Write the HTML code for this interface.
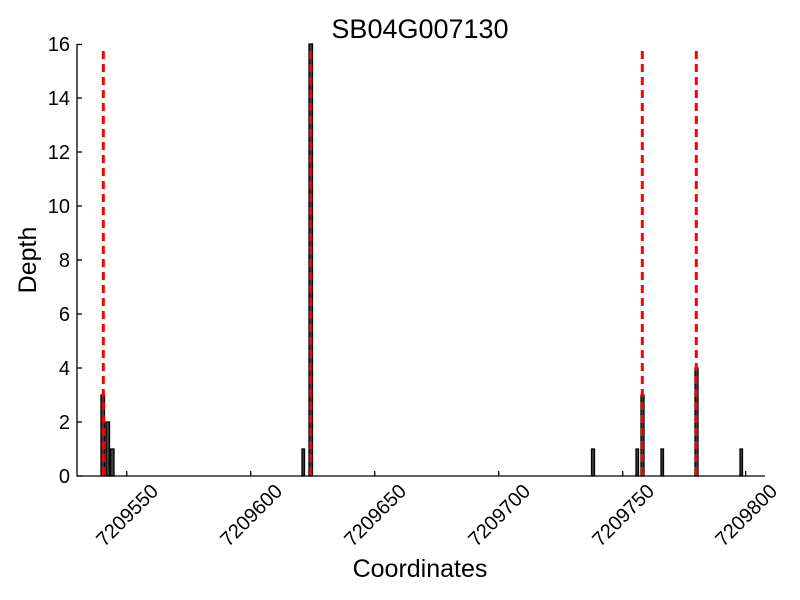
<!DOCTYPE html>
<html><head><style>body{margin:0;background:#fff}svg{display:block}</style></head><body>
<svg width="800" height="600" xmlns="http://www.w3.org/2000/svg" font-family="Liberation Sans, sans-serif">
<rect width="800" height="600" fill="#fff"/>
<text x="420" y="38" font-size="27" text-anchor="middle">SB04G007130</text>
<g fill="#404040" stroke="#000" stroke-width="1.3">
<rect x="101" y="395" width="3.5" height="81"/>
<rect x="106" y="422" width="3.5" height="54"/>
<rect x="110.5" y="449" width="3.5" height="27"/>
<rect x="302" y="449" width="2.5" height="27"/>
<rect x="309" y="44" width="3.5" height="432"/>
<rect x="591.5" y="449" width="3" height="27"/>
<rect x="636" y="449" width="2.5" height="27"/>
<rect x="641" y="395" width="3" height="81"/>
<rect x="661" y="449" width="2.5" height="27"/>
<rect x="695" y="368" width="3" height="108"/>
<rect x="740" y="449" width="2.5" height="27"/>
</g>
<g stroke="#f00" stroke-width="3" stroke-dasharray="8,5">
<line x1="103.3" y1="51" x2="103.3" y2="476"/>
<line x1="310.7" y1="51" x2="310.7" y2="476"/>
<line x1="642.3" y1="51" x2="642.3" y2="476"/>
<line x1="696.3" y1="51" x2="696.3" y2="476"/>
</g>
<g stroke="#000" stroke-width="1.3" fill="none">
<line x1="77" y1="44" x2="77" y2="476.5"/>
<line x1="76.5" y1="476" x2="765" y2="476"/>
<line x1="77" y1="476" x2="82" y2="476"/><line x1="77" y1="422" x2="82" y2="422"/>
<line x1="77" y1="368" x2="82" y2="368"/><line x1="77" y1="314" x2="82" y2="314"/>
<line x1="77" y1="260" x2="82" y2="260"/><line x1="77" y1="206" x2="82" y2="206"/>
<line x1="77" y1="152" x2="82" y2="152"/><line x1="77" y1="98" x2="82" y2="98"/>
<line x1="77" y1="44.5" x2="82" y2="44.5"/>
<line x1="126.7" y1="476" x2="126.7" y2="471"/><line x1="250.7" y1="476" x2="250.7" y2="471"/>
<line x1="374.7" y1="476" x2="374.7" y2="471"/><line x1="498.7" y1="476" x2="498.7" y2="471"/>
<line x1="622.7" y1="476" x2="622.7" y2="471"/><line x1="745.7" y1="476" x2="745.7" y2="471"/>
</g>
<g font-size="20" text-anchor="end">
<text x="70" y="483">0</text><text x="70" y="429">2</text><text x="70" y="375">4</text>
<text x="70" y="321">6</text><text x="70" y="267">8</text><text x="70" y="213">10</text>
<text x="70" y="159">12</text><text x="70" y="105">14</text><text x="70" y="51">16</text>
</g>
<g font-size="20" text-anchor="middle">
<text transform="translate(127,515) rotate(-45)" y="7">7209550</text>
<text transform="translate(251,515) rotate(-45)" y="7">7209600</text>
<text transform="translate(375,515) rotate(-45)" y="7">7209650</text>
<text transform="translate(499,515) rotate(-45)" y="7">7209700</text>
<text transform="translate(623,515) rotate(-45)" y="7">7209750</text>
<text transform="translate(746,515) rotate(-45)" y="7">7209800</text>
</g>
<text x="420" y="577" font-size="25" text-anchor="middle">Coordinates</text>
<text transform="translate(36,260) rotate(-90)" font-size="25" text-anchor="middle">Depth</text>
</svg>
</body></html>
